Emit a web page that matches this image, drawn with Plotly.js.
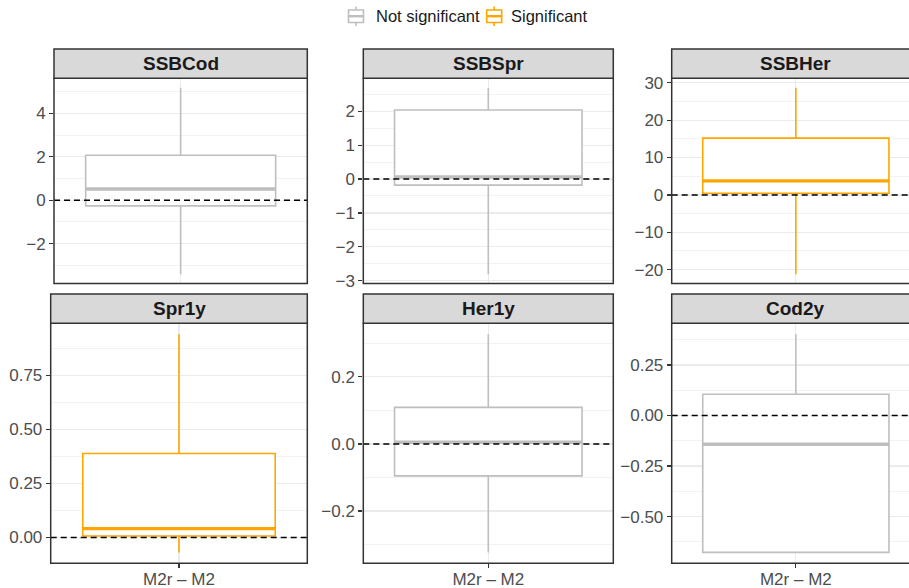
<!DOCTYPE html>
<html>
<head>
<meta charset="utf-8">
<script src="https://cdn.plot.ly/plotly-3.0.1.min.js"></script>
<style>html,body{margin:0;padding:0;background:#fff;}#chart{width:909px;height:588px;}</style>
</head>
<body>
<div id="chart"></div>
<script>
// ---- data ----
const categories = ['M2r – M2'];
const panels = ['SSBCod', 'SSBSpr', 'SSBHer', 'Spr1y', 'Her1y', 'Cod2y'];
const significant = [false, false, true, true, false, false];
const lowerWhisker = [-3.40, -2.81, -21.2, -0.069, -0.323, -0.677];
const q1Values = [-0.26, -0.18, 0.45, 0.007, -0.095, -0.677];
const medianValues = [0.52, 0.06, 3.75, 0.041, 0.005, -0.142];
const q3Values = [2.07, 2.04, 15.2, 0.388, 0.109, 0.105];
const upperWhisker = [5.18, 2.70, 28.7, 0.940, 0.327, 0.402];
const yTickStep = [2, 1, 10, 0.25, 0.2, 0.25];
const yTickFormat = ['d', 'd', 'd', '.2f', '.1f', '.2f'];
const legendLabels = ['Not significant', 'Significant'];

// ---- styling / geometry ----
const W = 909, H = 588;
const legendColors = ['#BEBEBE', '#FFA500'];
const colX = [[54, 307.3], [363.3, 613.3], [671.7, 920]];
const rowY = [[78.3, 283.5], [323.3, 563.3]];
const stripH = 29.3;
const FONT = 'Liberation Sans, Arial, Helvetica, sans-serif';
const tickFont = {family: FONT, size: 17, color: '#4D4D4D'};

const traces = [];
const shapes = [];
const annotations = [];
const layout = {
  width: W, height: H,
  margin: {l: 0, r: 0, t: 0, b: 0},
  paper_bgcolor: '#fff', plot_bgcolor: '#fff',
  showlegend: false,
  hovermode: false,
  shapes: shapes, annotations: annotations
};

panels.forEach((name, i) => {
  const r = Math.floor(i / 3), c = i % 3;
  const ax = i === 0 ? '' : String(i + 1);
  const left = (r === 1 && c === 0) ? 50.7 : colX[c][0];
  const right = colX[c][1];
  const visRight = Math.min(right, W);
  const xr = [-0.6, -0.6 + 1.2 * (visRight - left) / (right - left)];
  const lo = lowerWhisker[i], hi = upperWhisker[i];
  const pad = (hi - lo) * 0.05;
  const col = significant[i] ? legendColors[1] : legendColors[0];
  const grp = significant[i] ? legendLabels[1] : legendLabels[0];

  layout['xaxis' + ax] = {
    domain: [left / W, visRight / W], anchor: 'y' + ax, type: 'category', range: xr,
    showgrid: true, gridcolor: '#EBEBEB', gridwidth: 1.3, zeroline: false, showline: false,
    showticklabels: r === 1, ticks: r === 1 ? 'outside' : '', ticklen: 4, tickwidth: 1.3,
    tickcolor: '#333333', tickfont: tickFont, ticklabelstandoff: -4, fixedrange: true
  };
  layout['yaxis' + ax] = {
    domain: [1 - rowY[r][1] / H, 1 - rowY[r][0] / H], anchor: 'x' + ax,
    range: [lo - pad, hi + pad], tick0: 0, dtick: yTickStep[i], tickformat: yTickFormat[i],
    showgrid: true, gridcolor: '#EBEBEB', gridwidth: 1.3, zeroline: false, showline: false,
    minor: {dtick: yTickStep[i] / 2, tick0: 0, showgrid: true, gridcolor: '#F2F2F2', gridwidth: 1, ticks: ''},
    ticks: 'outside', ticklen: 4, tickwidth: 1.3, tickcolor: '#333333', tickfont: tickFont,
    fixedrange: true
  };

  traces.push({
    type: 'box', x: [categories[0]], xaxis: 'x' + ax, yaxis: 'y' + ax,
    q1: [q1Values[i]], median: [medianValues[i]], q3: [q3Values[i]],
    lowerfence: [lowerWhisker[i]], upperfence: [upperWhisker[i]],
    width: 0.9, whiskerwidth: 0, boxpoints: false,
    line: {color: col, width: 1.6}, fillcolor: '#FFFFFF',
    name: grp, hoverinfo: 'skip'
  });
  // thicker median line
  traces.push({
    type: 'box', x: [categories[0]], xaxis: 'x' + ax, yaxis: 'y' + ax,
    q1: [medianValues[i]], median: [medianValues[i]], q3: [medianValues[i]],
    lowerfence: [medianValues[i]], upperfence: [medianValues[i]],
    width: 0.9, whiskerwidth: 0, boxpoints: false,
    line: {color: col, width: 3.4}, fillcolor: 'rgba(0,0,0,0)',
    name: grp, hoverinfo: 'skip'
  });

  // dashed zero reference
  shapes.push({type: 'line', xref: 'x' + ax + ' domain', yref: 'y' + ax, x0: 0, x1: 1, y0: 0, y1: 0,
               line: {color: '#000000', width: 1.5, dash: '6px,4px'}, layer: 'above'});
  // panel border
  const fullX1 = (right - left) / (visRight - left);
  shapes.push({type: 'rect', xref: 'x' + ax + ' domain', yref: 'y' + ax + ' domain', x0: 0, x1: fullX1, y0: 0, y1: 1,
               line: {color: '#333333', width: 1.5}, fillcolor: 'rgba(0,0,0,0)', layer: 'above'});
  // strip
  shapes.push({type: 'rect', xref: 'paper', yref: 'paper', x0: left / W, x1: right / W,
               y0: 1 - rowY[r][0] / H, y1: 1 - (rowY[r][0] - stripH) / H,
               line: {color: '#333333', width: 1.5}, fillcolor: '#D9D9D9', layer: 'above'});
  annotations.push({xref: 'paper', yref: 'paper', x: (left + right) / 2 / W, y: 1 - (rowY[r][0] - stripH / 2) / H,
                    text: '<b>' + name + '</b>', showarrow: false, xanchor: 'center', yanchor: 'middle',
                    font: {family: FONT, size: 19, color: '#1A1A1A'}});
});

// ---- legend (box-plot key glyphs) ----
const legendIconX = [348.5, 486.7];
const legendTextX = [373.5, 508.5];
const py = v => 1 - v / H, px = v => v / W;
legendLabels.forEach((lab, k) => {
  const x0 = legendIconX[k], x1 = x0 + 15, xm = (x0 + x1) / 2;
  const ln = {color: legendColors[k], width: 1.6};
  shapes.push({type: 'line', xref: 'paper', yref: 'paper', x0: px(xm), x1: px(xm), y0: py(6.5), y1: py(10), line: ln});
  shapes.push({type: 'line', xref: 'paper', yref: 'paper', x0: px(xm), x1: px(xm), y0: py(22.5), y1: py(26), line: ln});
  shapes.push({type: 'rect', xref: 'paper', yref: 'paper', x0: px(x0), x1: px(x1), y0: py(10), y1: py(22.5),
               line: ln, fillcolor: '#FFFFFF'});
  shapes.push({type: 'line', xref: 'paper', yref: 'paper', x0: px(x0), x1: px(x1), y0: py(16.2), y1: py(16.2),
               line: {color: legendColors[k], width: 2.4}});
  annotations.push({xref: 'paper', yref: 'paper', x: px(legendTextX[k]), y: py(16.3), text: lab, showarrow: false,
                    xanchor: 'left', yanchor: 'middle',
                    font: {family: FONT, size: 16.5, color: '#1A1A1A'}});
});

Plotly.newPlot('chart', traces, layout, {staticPlot: true, displayModeBar: false});
</script>
</body>
</html>
